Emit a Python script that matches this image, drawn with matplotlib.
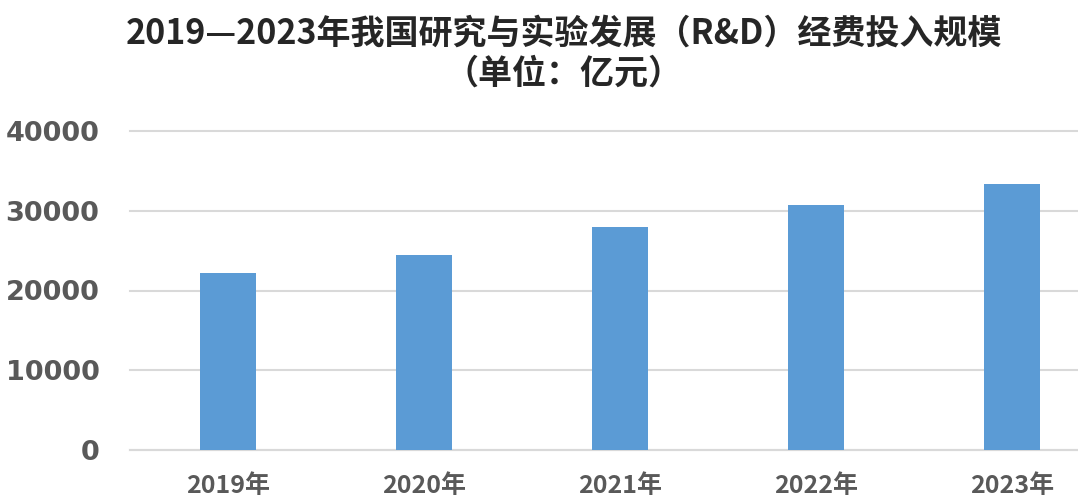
import matplotlib
matplotlib.use('Agg')
import matplotlib.pyplot as plt
import numpy as np

# R&D spending, 100 million yuan
years = ['2019年', '2020年', '2021年', '2022年', '2023年']
spend = [22143.6, 24393.1, 27956.3, 30782.9, 33357.1]
yticks = [0, 10000, 20000, 30000, 40000]

plt.rcParams['font.family'] = ['Noto Sans CJK SC', 'DejaVu Sans']

fig = plt.figure(figsize=(10.78, 4.98), dpi=100)
fig.patch.set_facecolor('white')
ax = fig.add_axes([130 / 1078, 48 / 498, 1 - 130 / 1078, (450 - 131) / 498])

x = np.arange(len(years))
ax.bar(x, spend, width=0.286, color='#5B9BD5', zorder=3)

ax.set_ylim(0, 40000)
ax.set_xlim(-0.5, 4.337)
ax.set_yticks(yticks)
ax.set_yticklabels([str(v) for v in yticks], family='DejaVu Sans',
                   fontweight='bold', fontsize=19.5, color='#595959')
ax.set_xticks(x)
ax.set_xticklabels(years, fontweight='bold', fontsize=18, color='#595959')
ax.tick_params(axis='both', length=0)
ax.tick_params(axis='x', pad=17)
ax.tick_params(axis='y', pad=22)

ax.grid(axis='y', color='#D9D9D9', linewidth=1.5, zorder=0)
ax.set_axisbelow(True)
for s in ['top', 'right', 'left']:
    ax.spines[s].set_visible(False)
ax.spines['bottom'].set_color('#D9D9D9')
ax.spines['bottom'].set_linewidth(1.5)
for gl in ax.get_ygridlines():
    gl.set_clip_on(False)

fig.text(0.523, 0.933, '2019—2023年我国研究与实验发展（R&D）经费投入规模',
         ha='center', va='center', fontsize=24.5, fontweight='bold', color='#262626')
fig.text(0.523, 0.853, '（单位：亿元）',
         ha='center', va='center', fontsize=24.5, fontweight='bold', color='#262626')

fig.savefig('out.png', dpi=100, facecolor='white')
